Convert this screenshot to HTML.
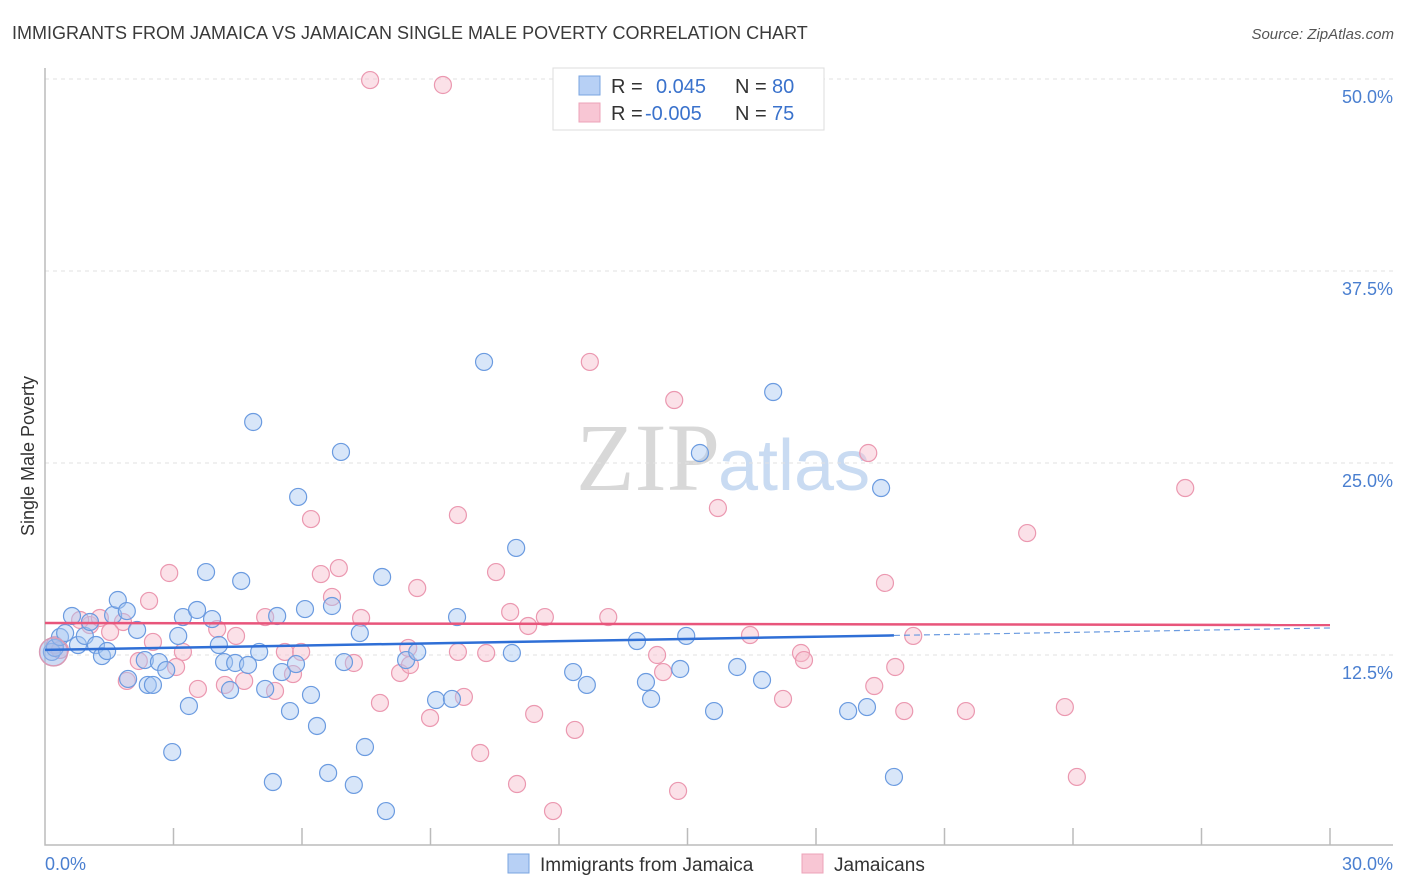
<!DOCTYPE html>
<html><head><meta charset="utf-8">
<style>
body{margin:0;background:#fff;font-family:"Liberation Sans",sans-serif;}
#wrap{position:relative;width:1406px;height:892px;overflow:hidden;}
</style></head>
<body>
<div id="wrap">
<svg id="svg" width="1406" height="892" xmlns="http://www.w3.org/2000/svg">
<text x="12" y="39" font-size="18" fill="#3a3a3a">IMMIGRANTS FROM JAMAICA VS JAMAICAN SINGLE MALE POVERTY CORRELATION CHART</text>
<text x="1394" y="39" font-size="15" fill="#555" font-style="italic" text-anchor="end">Source: ZipAtlas.com</text>
<text x="720" y="490" font-size="96" fill="#d8d8d8" text-anchor="end" font-family="Liberation Serif,serif">ZIP</text>
<text x="718" y="490" font-size="72" fill="#c9dbf2">atlas</text>
<g id="grid"></g>
<g id="axes"></g>
<g id="pts"></g>
<g id="lines"></g>
<text transform="translate(34,456) rotate(-90)" font-size="18" fill="#333" text-anchor="middle">Single Male Poverty</text>
<text x="45" y="870" font-size="18" fill="#4a7fd0">0.0%</text>
<text x="1393" y="870" font-size="18" fill="#4a7fd0" text-anchor="end">30.0%</text>
<g>
<rect x="553" y="68" width="271" height="62" fill="#fff" stroke="#ddd"/>
<rect x="579" y="76" width="21" height="19" fill="#b7d0f5" stroke="#7aa4e0"/>
<rect x="579" y="103" width="21" height="19" fill="#f8c6d4" stroke="#eda3b8"/>
<text x="611" y="93" font-size="20" fill="#333">R =</text>
<text x="656" y="93" font-size="20" fill="#3a72cc">0.045</text>
<text x="735" y="93" font-size="20" fill="#333">N =</text>
<text x="772" y="93" font-size="20" fill="#3a72cc">80</text>
<text x="611" y="120" font-size="20" fill="#333">R =</text>
<text x="645" y="120" font-size="20" fill="#3a72cc">-0.005</text>
<text x="735" y="120" font-size="20" fill="#333">N =</text>
<text x="772" y="120" font-size="20" fill="#3a72cc">75</text>
</g>
<g>
<rect x="508" y="854" width="21" height="19" fill="#b7d0f5" stroke="#7aa4e0"/>
<text x="540" y="871" font-size="19" fill="#333">Immigrants from Jamaica</text>
<rect x="802" y="854" width="21" height="19" fill="#f8c6d4" stroke="#eda3b8"/>
<text x="834" y="871" font-size="19" fill="#333">Jamaicans</text>
</g>
</svg>
</div>
<script>
const blueX=[0.16,0.23,0.35,0.47,0.63,0.77,0.93,1.05,1.19,1.33,1.45,1.59,1.70,1.91,1.94,2.15,2.33,2.40,2.52,2.66,2.83,2.97,3.11,3.22,3.36,3.55,3.76,3.90,4.06,4.18,4.32,4.44,4.58,4.74,4.86,5.00,5.14,5.32,5.42,5.53,5.72,5.86,5.91,6.07,6.21,6.35,6.61,6.70,6.91,6.98,7.21,7.35,7.47,7.87,7.96,8.43,8.69,9.13,9.50,9.62,10.25,10.90,11.00,12.33,12.65,13.82,14.03,14.15,14.83,14.97,15.29,15.62,16.16,16.74,17.00,18.75,19.19,19.52,19.82];
const blueY=[12.7,12.96,13.67,13.93,15.04,13.15,13.74,14.65,13.15,12.43,12.76,15.1,16.08,15.36,10.94,14.13,12.17,10.55,10.55,12.04,11.52,6.18,13.74,14.97,9.18,15.43,17.9,14.84,13.15,12.04,10.22,11.98,17.32,11.85,27.67,12.7,10.29,4.23,15.04,11.39,8.85,11.91,22.79,15.49,9.9,7.88,4.82,15.69,25.72,12.04,4.04,13.93,6.51,17.58,2.34,12.17,12.7,9.57,9.64,14.97,31.58,12.63,19.47,11.39,10.55,13.41,10.74,9.64,11.59,13.74,25.65,8.85,11.72,10.87,29.62,8.85,9.11,23.37,4.56];
const pinkX=[7.59,9.29,12.72,14.69,19.22,26.62,15.71,6.21,9.64,22.93,2.90,6.44,6.86,10.53,8.69,19.61,2.43,6.70,10.86,11.67,13.15,7.38,5.14,4.02,4.46,11.28,1.82,1.52,1.05,0.82,1.28,16.46,20.27,2.52,3.22,2.19,3.06,5.60,5.98,8.48,8.29,7.21,8.52,9.64,10.30,14.29,14.43,17.65,17.72,19.85,1.91,3.57,4.20,4.65,5.37,5.79,7.82,8.99,9.78,11.42,12.37,17.23,19.36,20.06,21.5,23.81,10.16,11.02,11.86,14.78,24.09,0.23,0.35];
const pinkY=[49.93,49.61,31.58,29.1,25.65,23.37,22.07,21.35,21.61,20.44,17.84,17.77,18.16,17.9,16.86,17.19,16.02,16.28,15.3,14.97,14.97,14.91,14.97,14.19,13.74,14.39,14.65,14.0,14.45,14.78,14.91,13.8,13.74,13.35,12.7,12.11,11.72,12.7,12.7,12.96,11.33,11.98,11.85,12.7,12.63,12.5,11.39,12.63,12.17,11.72,10.81,10.29,10.55,10.81,10.16,11.26,9.38,8.4,9.77,8.66,7.62,9.64,10.48,8.85,8.85,9.11,6.12,4.1,2.34,3.65,4.56,13.15,12.83];
const yTicks=[12.5,25,37.5,50];
const yTickLabels=["12.5%","25.0%","37.5%","50.0%"];
const xTicks=[3,6,9,12,15,18,21,24,27,30];
const blueTrend=[12.83,14.26]; // y at x=0 and x=30
const pinkTrend=[14.58,14.45];
const NS="http://www.w3.org/2000/svg";
const sx=v=>45+v*(1330-45)/30;
const sy=v=>847-v*192/12.5;
function mk(tag,attrs,parent){const e=document.createElementNS(NS,tag);for(const k in attrs)e.setAttribute(k,attrs[k]);parent.appendChild(e);return e;}
const grid=document.getElementById('grid'),axes=document.getElementById('axes'),pts=document.getElementById('pts'),lines=document.getElementById('lines');
yTicks.forEach((t,i)=>{
 const l=mk('line',{x1:45,x2:1393,y1:sy(t),y2:sy(t),stroke:'#e2e2e2','stroke-dasharray':'4,4'},grid);
 
 
 const tx=mk('text',{x:1393,y:sy(t)+24,'font-size':18,fill:'#4a7fd0','text-anchor':'end'},grid);
 tx.textContent=yTickLabels[i];
 
 
});
const ax=mk('path',{d:'M45 68 V845 H1393',fill:'none',stroke:'#bbb','stroke-width':1.5},axes);


xTicks.forEach(t=>{
 const l=mk('line',{x1:sx(t),x2:sx(t),y1:828,y2:845,stroke:'#bbb','stroke-width':1.5},axes);
 
 
});
function drawPts(X,Y,fill,stroke,name){
 X.forEach((x,i)=>{
  const c=mk('circle',{cx:sx(x),cy:sy(Y[i]),r:8.5,fill:fill,'fill-opacity':0.45,stroke:stroke,'stroke-width':1.2},pts);
  
  
 });
}
drawPts(pinkX,pinkY,'#f6bccd','#eb98b0','jamaicans-point');
drawPts(blueX,blueY,'#a9c8f2','#6b9be0','immigrants-point');
const big=mk('circle',{cx:sx(0.2),cy:sy(12.7),r:14,fill:'#9ab5e8','fill-opacity':0.5,stroke:'#d89ab5','stroke-width':1.5},pts);


const bmax=Math.max(...blueX);
const by=x=>blueTrend[0]+(blueTrend[1]-blueTrend[0])*x/30;
const py=x=>pinkTrend[0]+(pinkTrend[1]-pinkTrend[0])*x/30;
let l1=mk('line',{x1:sx(0),y1:sy(by(0)),x2:sx(bmax),y2:sy(by(bmax)),stroke:'#2f6fd6','stroke-width':2.5},lines);


let l2=mk('line',{x1:sx(bmax),y1:sy(by(bmax)),x2:sx(30),y2:sy(by(30)),stroke:'#6b9be0','stroke-width':1.2,'stroke-dasharray':'6,4'},lines);


let l3=mk('line',{x1:sx(0),y1:sy(py(0)),x2:sx(30),y2:sy(py(30)),stroke:'#e8557b','stroke-width':2.5},lines);


</script>
</body></html>
